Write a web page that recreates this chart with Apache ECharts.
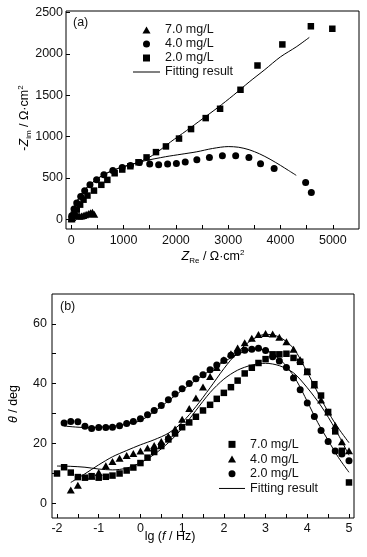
<!DOCTYPE html>
<html><head><meta charset="utf-8">
<script src="https://cdn.jsdelivr.net/npm/echarts@6/dist/echarts.min.js"></script>
<style>html,body{margin:0;padding:0;background:#fff}#c{width:367px;height:557px}</style>
</head><body><div id="c"></div>
<script>
const FONT = '"Liberation Sans", Arial, sans-serif';

// ===== (a) Nyquist plot =====
const nyqLabelsX = [0, 1000, 2000, 3000, 4000, 5000];
const nyqTicksX = [0, 500, 1000, 1500, 2000, 2500, 3000, 3500, 4000, 4500, 5000];
const nyqLabelsY = [0, 500, 1000, 1500, 2000, 2500];

// 7.0 mg/L (triangles)
const nyq7_re = [8, 20, 35, 55, 75, 100, 130, 160, 195, 230, 265, 300, 335, 370, 405, 440];
const nyq7_im = [5, 20, 38, 55, 62, 55, 40, 35, 38, 45, 52, 60, 68, 78, 82, 60];
// 4.0 mg/L (circles)
const nyq4_re = [10, 53, 105, 181, 257, 358, 485, 624, 795, 974, 1132, 1303, 1500, 1671, 1842, 2010, 2179, 2401, 2641, 2889, 3143, 3396, 3618, 3878, 4480, 4589];
const nyq4_im = [40, 121, 194, 274, 343, 415, 476, 536, 588, 625, 649, 685, 666, 657, 666, 672, 690, 718, 746, 766, 766, 746, 669, 613, 443, 322];
// 2.0 mg/L (squares)
const nyq2_re = [5, 50, 105, 170, 235, 310, 435, 575, 690, 830, 975, 1130, 1285, 1440, 1620, 1810, 2060, 2290, 2570, 2845, 3235, 3560, 4035, 4580, 4990];
const nyq2_im = [0, 55, 115, 175, 235, 285, 345, 415, 475, 555, 600, 640, 688, 747, 811, 880, 975, 1090, 1223, 1336, 1566, 1860, 2115, 2335, 2305];
// fitting results
const fitA2_re = [0, 30, 80, 150, 250, 400, 600, 800, 1000, 1200, 1400, 1600, 1900, 2200, 2500, 2800, 3100, 3400, 3700, 4000, 4300, 4550];
const fitA2_im = [0, 70, 170, 260, 350, 440, 530, 590, 635, 670, 720, 790, 935, 1070, 1210, 1350, 1500, 1660, 1810, 1965, 2085, 2200];
const fitA4_re = [0, 30, 80, 150, 250, 400, 600, 800, 1000, 1200, 1400, 1800, 2100, 2400, 2700, 3000, 3200, 3400, 3600, 3800, 4000, 4150, 4300];
const fitA4_im = [0, 70, 170, 260, 350, 440, 530, 590, 635, 670, 705, 755, 785, 815, 855, 878, 870, 840, 790, 725, 650, 590, 530];

// ===== (b) Bode phase plot =====
const bodeLabelsX = [-2, -1, 0, 1, 2, 3, 4, 5];
const bodeTicksX = [-2, -1.5, -1, -0.5, 0, 0.5, 1, 1.5, 2, 2.5, 3, 3.5, 4, 4.5, 5];
const bodeLabelsY = [0, 20, 40, 60];
const bodeTicksY = [0, 10, 20, 30, 40, 50, 60];

// 7.0 mg/L (squares)
const bode7_lgf = [-2.0, -1.83, -1.67, -1.5, -1.33, -1.17, -1.0, -0.83, -0.67, -0.5, -0.33, -0.17, 0.0, 0.17, 0.33, 0.5, 0.67, 0.83, 1.0, 1.17, 1.33, 1.5, 1.67, 1.83, 2.0, 2.17, 2.33, 2.5, 2.67, 2.83, 3.0, 3.17, 3.33, 3.5, 3.67, 3.83, 4.0, 4.17, 4.33, 4.5, 4.67, 4.83, 5.0];
const bode7_theta = [9.9, 12.0, 10.2, 8.7, 8.5, 9.0, 8.5, 8.8, 9.2, 9.9, 10.9, 11.9, 13.4, 15.2, 17.1, 19.1, 21.3, 23.3, 25.4, 27.0, 28.9, 31.0, 32.9, 34.9, 36.9, 38.8, 41.0, 43.4, 45.3, 46.9, 48.2, 49.8, 49.8, 50.0, 48.6, 47.3, 44.0, 39.8, 36.0, 30.5, 24.0, 17.5, 6.9];
// 4.0 mg/L (triangles)
const bode4_lgf = [-1.67, -1.5, -1.17, -1.0, -0.83, -0.67, -0.5, -0.33, -0.17, 0.0, 0.17, 0.33, 0.5, 0.67, 0.83, 1.0, 1.17, 1.33, 1.5, 1.67, 1.83, 2.0, 2.17, 2.33, 2.5, 2.67, 2.83, 3.0, 3.17, 3.33, 3.5, 3.67, 3.83, 4.0, 4.17, 4.33, 4.5, 4.67, 4.83, 5.0];
const bode4_theta = [4.4, 6.0, 9.0, 10.2, 12.5, 13.9, 15.0, 15.9, 16.6, 17.4, 18.4, 19.3, 20.6, 22.4, 24.8, 28.1, 31.7, 35.2, 38.9, 42.4, 45.4, 48.0, 50.0, 51.9, 53.7, 55.2, 56.4, 56.8, 56.6, 55.5, 54.0, 51.5, 48.0, 44.0, 39.5, 34.5, 30.5, 26.0, 20.5, 17.5];
// 2.0 mg/L (circles)
const bode2_lgf = [-1.83, -1.67, -1.5, -1.33, -1.17, -1.0, -0.83, -0.67, -0.5, -0.33, -0.17, 0.0, 0.17, 0.33, 0.5, 0.67, 0.83, 1.0, 1.17, 1.33, 1.5, 1.67, 1.83, 2.0, 2.17, 2.33, 2.5, 2.67, 2.83, 3.0, 3.17, 3.33, 3.5, 3.67, 3.83, 4.0, 4.17, 4.33, 4.5, 4.67, 4.83, 5.0];
const bode2_theta = [26.8, 27.3, 27.2, 25.7, 25.0, 25.3, 25.3, 25.4, 25.9, 26.6, 27.3, 28.2, 29.6, 31.0, 32.7, 34.6, 36.5, 38.3, 40.0, 41.6, 43.0, 44.6, 46.2, 47.7, 49.5, 50.4, 51.2, 51.5, 51.8, 51.1, 49.0, 47.6, 45.4, 41.9, 37.9, 33.5, 29.0, 24.3, 20.6, 17.4, 16.4, 14.2];
// fitting results
const fitB7_lgf = [-2.0, -1.67, -1.33, -1.0, -0.67, -0.33, 0.0, 0.33, 0.67, 1.0, 1.33, 1.67, 2.0, 2.33, 2.67, 3.0, 3.33, 3.67, 4.0, 4.33, 4.67, 5.0];
const fitB7_theta = [12.4, 12.3, 12.0, 11.4, 11.1, 11.7, 13.5, 16.3, 20.2, 25.0, 31.0, 37.0, 41.5, 44.5, 46.2, 46.8, 46.0, 43.6, 38.6, 32.5, 24.8, 16.0];
const fitB4_lgf = [-1.67, -1.33, -1.0, -0.67, -0.33, 0.0, 0.33, 0.67, 1.0, 1.33, 1.67, 2.0, 2.33, 2.67, 3.0, 3.33, 3.67, 4.0, 4.17, 4.33, 4.67, 5.0];
const fitB4_theta = [6.9, 9.8, 12.8, 15.5, 17.6, 19.5, 21.2, 23.4, 27.0, 32.3, 38.6, 45.0, 50.5, 54.6, 56.5, 55.6, 51.8, 43.8, 39.2, 34.8, 26.6, 20.2];
const fitB2_lgf = [-1.83, -1.33, -1.0, -0.5, 0.0, 0.5, 1.0, 1.5, 2.0, 2.5, 2.83, 3.0, 3.25, 3.5, 3.75, 4.0, 4.25, 4.5, 4.75, 5.0];
const fitB2_theta = [25.8, 25.3, 25.4, 26.0, 27.6, 32.4, 37.8, 42.8, 47.3, 50.8, 51.5, 51.2, 49.2, 45.8, 40.8, 34.0, 27.0, 21.0, 15.2, 10.3];

const zip = (a, b) => a.map((v, i) => [v, b[i]]);

const BLACK = '#000';
const tickStyle = {color: BLACK, width: 1};
const labelStyle = {fontSize: 12.5, color: '#111', fontFamily: FONT};

function valueAxis(gi, min, max, ticks, labels, margin) {
  return {
    gridIndex: gi, type: 'value', min: min, max: max,
    axisLine: {show: false, onZero: false},
    splitLine: {show: false},
    axisTick: {show: true, inside: true, length: 4, customValues: ticks, lineStyle: tickStyle},
    axisLabel: Object.assign({customValues: labels, margin: margin, formatter: v => String(v)}, labelStyle)
  };
}

const sqIcon = 'path://M0,0H10V10H0Z';
const triIcon = 'path://M5,0L10,8.66L0,8.66Z';
const lineIcon = 'path://M0,0H27V1H0Z';

const legendBase = {
  orient: 'vertical', padding: 0, itemGap: 0, itemWidth: 27, itemHeight: 7,
  selectedMode: false,
  textStyle: {fontSize: 12.5, color: '#111', fontFamily: FONT, lineHeight: 14},
};

const rich = {
  n: {fontSize: 12.5, fontFamily: FONT, color: '#111', lineHeight: 16},
  i: {fontSize: 12.5, fontFamily: FONT, color: '#111', fontStyle: 'italic', lineHeight: 16},
  sub: {fontSize: 8, fontFamily: FONT, color: '#111', verticalAlign: 'bottom', lineHeight: 11},
  sup: {fontSize: 8, fontFamily: FONT, color: '#111', verticalAlign: 'top', lineHeight: 11}
};

const option = {
  animation: false,
  backgroundColor: '#fff',
  grid: [
    {left: 66, top: 11, width: 293, height: 218, show: true, borderColor: BLACK, borderWidth: 1, backgroundColor: 'transparent', containLabel: false},
    {left: 52, top: 294, width: 302, height: 224, show: true, borderColor: BLACK, borderWidth: 1, backgroundColor: 'transparent', containLabel: false}
  ],
  xAxis: [
    valueAxis(0, -100, 5500, nyqTicksX, nyqLabelsX, 5),
    valueAxis(1, -2.12, 5.12, bodeTicksX, bodeLabelsX, 4)
  ],
  yAxis: [
    valueAxis(0, -120, 2520, nyqLabelsY, nyqLabelsY, 3),
    valueAxis(1, -5, 70, bodeTicksY, bodeLabelsY, 5)
  ],
  legend: [
    Object.assign({}, legendBase, {
      left: 133, top: 23,
      data: [
        {name: '7.0 mg/L', icon: triIcon},
        {name: '4.0 mg/L', icon: 'circle'},
        {name: '2.0 mg/L', icon: sqIcon},
        {name: 'Fitting result', icon: lineIcon}
      ]
    }),
    Object.assign({}, legendBase, {
      left: 219, top: 437,
      itemWidth: 26,
      textStyle: Object.assign({}, legendBase.textStyle, {lineHeight: 14.7}),
      data: [
        {name: '7.0 mg/L', icon: sqIcon},
        {name: '4.0 mg/L', icon: triIcon},
        {name: '2.0 mg/L', icon: 'circle'},
        {name: 'Fitting result', icon: 'path://M0,0H26V1H0Z'}
      ]
    })
  ],
  graphic: [
    {type: 'text', left: 73, top: 16, style: {text: '(a)', font: '12.5px ' + FONT, fill: '#111'}},
    {type: 'text', left: 60, top: 300, style: {text: '(b)', font: '12.5px ' + FONT, fill: '#111'}},
    {type: 'text', x: 213, y: 257, style: {text: '{i|Z}{sub|Re}{n| / Ω·cm}{sup|2}', rich: rich, align: 'center', verticalAlign: 'middle'}},
    {type: 'text', x: 25, y: 118, rotation: Math.PI / 2, style: {text: '{n|-}{i|Z}{sub|im}{n| / Ω·cm}{sup|2}', rich: rich, align: 'center', verticalAlign: 'middle'}},
    {type: 'text', x: 170, y: 537, style: {text: '{n|lg (}{i|f}{n| / Hz)}', rich: rich, align: 'center', verticalAlign: 'middle'}},
    {type: 'text', x: 14, y: 404, rotation: Math.PI / 2, style: {text: '{i|θ}{n| / deg}', rich: rich, align: 'center', verticalAlign: 'middle'}}
  ],
  series: [
    // (a)
    {type: 'line', name: 'Fitting result', xAxisIndex: 0, yAxisIndex: 0, symbol: 'none', smooth: 0.3, lineStyle: {color: BLACK, width: 1}, itemStyle: {color: BLACK}, data: zip(fitA2_re, fitA2_im), z: 3},
    {type: 'line', name: 'Fitting result', xAxisIndex: 0, yAxisIndex: 0, symbol: 'none', smooth: 0.3, lineStyle: {color: BLACK, width: 1}, itemStyle: {color: BLACK}, data: zip(fitA4_re, fitA4_im), z: 3},
    {type: 'scatter', name: '7.0 mg/L', xAxisIndex: 0, yAxisIndex: 0, symbol: 'triangle', symbolSize: [8, 7], itemStyle: {color: BLACK, opacity: 1}, data: zip(nyq7_re, nyq7_im)},
    {type: 'scatter', name: '4.0 mg/L', xAxisIndex: 0, yAxisIndex: 0, symbol: 'circle', symbolSize: 7, itemStyle: {color: BLACK, opacity: 1}, data: zip(nyq4_re, nyq4_im)},
    {type: 'scatter', name: '2.0 mg/L', xAxisIndex: 0, yAxisIndex: 0, symbol: 'rect', symbolSize: 6.5, itemStyle: {color: BLACK, opacity: 1}, data: zip(nyq2_re, nyq2_im)},
    // (b)
    {type: 'line', name: 'Fitting result', xAxisIndex: 1, yAxisIndex: 1, symbol: 'none', smooth: 0.3, lineStyle: {color: BLACK, width: 1}, itemStyle: {color: BLACK}, data: zip(fitB7_lgf, fitB7_theta), z: 3},
    {type: 'line', name: 'Fitting result', xAxisIndex: 1, yAxisIndex: 1, symbol: 'none', smooth: 0.3, lineStyle: {color: BLACK, width: 1}, itemStyle: {color: BLACK}, data: zip(fitB4_lgf, fitB4_theta), z: 3},
    {type: 'line', name: 'Fitting result', xAxisIndex: 1, yAxisIndex: 1, symbol: 'none', smooth: 0.3, lineStyle: {color: BLACK, width: 1}, itemStyle: {color: BLACK}, data: zip(fitB2_lgf, fitB2_theta), z: 3},
    {type: 'scatter', name: '7.0 mg/L', xAxisIndex: 1, yAxisIndex: 1, symbol: 'rect', symbolSize: 6.5, itemStyle: {color: BLACK, opacity: 1}, data: zip(bode7_lgf, bode7_theta)},
    {type: 'scatter', name: '4.0 mg/L', xAxisIndex: 1, yAxisIndex: 1, symbol: 'triangle', symbolSize: [8, 7], itemStyle: {color: BLACK, opacity: 1}, data: zip(bode4_lgf, bode4_theta)},
    {type: 'scatter', name: '2.0 mg/L', xAxisIndex: 1, yAxisIndex: 1, symbol: 'circle', symbolSize: 7, itemStyle: {color: BLACK, opacity: 1}, data: zip(bode2_lgf, bode2_theta)}
  ]
};

const chart = echarts.init(document.getElementById('c'), null, {renderer: 'canvas'});
chart.setOption(option);
</script>
</body></html>
